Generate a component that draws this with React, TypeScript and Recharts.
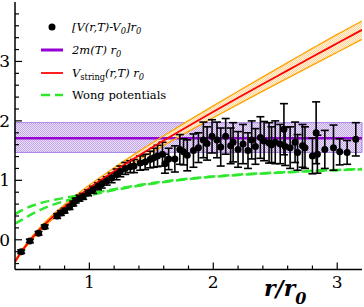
import React from 'react';
import {
  ComposedChart, Line, Area, Scatter, ErrorBar, XAxis, YAxis,
  ReferenceArea, ReferenceLine, Legend,
} from 'recharts';

// ---- curves ----
const curveR = [0.4, 0.45, 0.5, 0.6, 0.7, 0.8, 0.9, 1.0, 1.2, 1.4, 1.6, 1.8, 2.0, 2.2, 2.4, 2.6, 2.8, 3.0, 3.2];
const stringV = [-0.370, -0.207, -0.066, 0.174, 0.376, 0.555, 0.717, 0.870, 1.152, 1.417, 1.669, 1.914, 2.153, 2.388, 2.621, 2.850, 3.079, 3.305, 3.531];
const stringHi = [-0.350, -0.185, -0.041, 0.204, 0.411, 0.595, 0.762, 0.920, 1.212, 1.487, 1.749, 2.004, 2.253, 2.498, 2.741, 2.980, 3.219, 3.455, 3.681];
const stringLo = [-0.390, -0.230, -0.091, 0.144, 0.341, 0.515, 0.672, 0.820, 1.092, 1.347, 1.589, 1.824, 2.053, 2.278, 2.501, 2.720, 2.939, 3.155, 3.371];
const wongA = [0.43, 0.49, 0.54, 0.615, 0.665, 0.705, 0.74, 0.775, 0.85, 0.92, 0.98, 1.03, 1.065, 1.095, 1.12, 1.14, 1.16, 1.175, 1.19];
const wongB = [0.27, 0.33, 0.39, 0.50, 0.585, 0.65, 0.705, 0.75, 0.835, 0.91, 0.97, 1.02, 1.06, 1.09, 1.115, 1.135, 1.155, 1.17, 1.185];

// ---- 2m(T) r0 band ----
const twoM = 1.71;
const twoMLo = 1.47;
const twoMHi = 1.97;

// ---- lattice data [V(r,T)-V0] r0 ----
const dataR = [0.45, 0.52, 0.59, 0.64, 0.74, 0.77, 0.80, 0.84, 0.87, 0.89, 0.92, 0.95, 0.99, 1.03, 1.07, 1.10, 1.14, 1.18, 1.22, 1.25, 1.29, 1.33, 1.36, 1.41, 1.45, 1.49, 1.52, 1.55, 1.59, 1.61, 1.64, 1.69, 1.73, 1.76, 1.79, 1.84, 1.88, 1.92, 1.95, 1.99, 2.03, 2.06, 2.10, 2.14, 2.16, 2.20, 2.24, 2.28, 2.31, 2.34, 2.38, 2.41, 2.45, 2.47, 2.50, 2.54, 2.57, 2.58, 2.62, 2.66, 2.68, 2.72, 2.74, 2.80, 2.83, 2.84, 2.90, 2.97, 3.02, 3.08, 3.15];
const dataV = [-0.20, -0.02, 0.11, 0.22, 0.40, 0.45, 0.49, 0.55, 0.61, 0.66, 0.70, 0.73, 0.79, 0.84, 0.90, 0.94, 0.99, 1.04, 1.10, 1.15, 1.20, 1.23, 1.24, 1.29, 1.31, 1.35, 1.38, 1.41, 1.44, 1.28, 1.36, 1.36, 1.52, 1.48, 1.42, 1.50, 1.55, 1.68, 1.62, 1.74, 1.68, 1.56, 1.74, 1.58, 1.64, 1.52, 1.61, 1.50, 1.68, 1.57, 1.72, 1.66, 1.63, 1.60, 1.64, 1.61, 1.86, 1.57, 1.55, 1.64, 1.47, 1.58, 1.55, 1.41, 1.80, 1.44, 1.52, 1.55, 1.48, 1.47, 1.69];
const dataErr = [0.03, 0.03, 0.03, 0.03, 0.04, 0.04, 0.04, 0.04, 0.04, 0.04, 0.05, 0.05, 0.05, 0.06, 0.06, 0.07, 0.07, 0.08, 0.09, 0.09, 0.10, 0.10, 0.11, 0.12, 0.13, 0.14, 0.16, 0.18, 0.20, 0.16, 0.18, 0.22, 0.25, 0.22, 0.26, 0.28, 0.25, 0.30, 0.28, 0.28, 0.30, 0.32, 0.30, 0.30, 0.33, 0.30, 0.33, 0.30, 0.32, 0.30, 0.35, 0.33, 0.34, 0.30, 0.36, 0.33, 0.43, 0.32, 0.35, 0.34, 0.30, 0.36, 0.35, 0.30, 0.52, 0.32, 0.32, 0.38, 0.22, 0.20, 0.28];

// ---- ticks ----
const xTicks = [0.6, 0.8, 1, 1.2, 1.4, 1.6, 1.8, 2, 2.2, 2.4, 2.6, 2.8, 3];
const yTicks = [-0.4, -0.2, 0, 0.2, 0.4, 0.6, 0.8, 1, 1.2, 1.4, 1.6, 1.8, 2, 2.2, 2.4, 2.6, 2.8, 3, 3.2, 3.4, 3.6, 3.8];

const curveData = curveR.map((r, i) => ({
  r,
  s: stringV[i],
  hi: stringHi[i],
  lo: stringLo[i],
  band: [stringLo[i], stringHi[i]],
  wa: wongA[i],
  wb: wongB[i],
}));
const points = dataR.map((r, i) => ({ r, v: dataV[i], e: dataErr[i] }));

const SERIF = 'DejaVu Serif, Liberation Serif, serif';
const isMajor = (v: number) => Math.abs(v - Math.round(v)) < 1e-6;

const XTickBottom = (p: any) => {
  const { x, y, payload } = p;
  const m = isMajor(payload.value);
  return (
    <g>
      <line x1={x} x2={x} y1={y} y2={y - (m ? 7 : 4)} stroke="#000" strokeWidth={1.2} />
      {m && (
        <text x={x} y={y + 18.5} textAnchor="middle" style={{ fontFamily: SERIF, fontSize: 17 }} fill="#000">
          {Math.round(payload.value)}
        </text>
      )}
    </g>
  );
};
const XTickTop = (p: any) => {
  const { x, y, payload } = p;
  const m = isMajor(payload.value);
  return <line x1={x} x2={x} y1={y} y2={y + (m ? 7 : 4)} stroke="#000" strokeWidth={1.2} />;
};
const YTickLeft = (p: any) => {
  const { x, y, payload } = p;
  const m = isMajor(payload.value);
  return (
    <g>
      <line x1={x} x2={x + (m ? 7 : 4)} y1={y} y2={y} stroke="#000" strokeWidth={1.2} />
      {m && (
        <text x={x - 5} y={y + 6} textAnchor="end" style={{ fontFamily: SERIF, fontSize: 17 }} fill="#000">
          {Math.round(payload.value)}
        </text>
      )}
    </g>
  );
};
const YTickRight = (p: any) => {
  const { x, y, payload } = p;
  const m = isMajor(payload.value);
  return <line x1={x} x2={x - (m ? 7 : 4)} y1={y} y2={y} stroke="#000" strokeWidth={1.2} />;
};

const XLabel = (p: any) => {
  const vb = p.viewBox || { x: 15, y: 269.5 };
  return (
    <text x={vb.x + 249} y={vb.y + 26.5} style={{ fontFamily: SERIF, fontSize: 22, fontWeight: 'bold', fontStyle: 'italic' }} fill="#000">
      r/r
      <tspan style={{ fontSize: 16 }} dy={8}>0</tspan>
    </text>
  );
};

const Dot = (p: any) => <circle cx={p.cx} cy={p.cy} r={3.5} fill="#000" />;

const sub = (t: string, italic = true) => (
  <span style={{ fontSize: '0.72em', position: 'relative', top: '0.35em', fontStyle: italic ? 'italic' : 'normal' }}>{t}</span>
);

const LegendContent = () => {
  const row: React.CSSProperties = { display: 'flex', alignItems: 'center', height: 22.7, whiteSpace: 'nowrap' };
  const sw = (child: React.ReactNode) => (
    <svg width={22} height={10} style={{ marginLeft: 3, marginRight: 9, display: 'block' }}>{child}</svg>
  );
  return (
    <div style={{ fontFamily: SERIF, fontSize: 11.5, color: '#000' }}>
      <div style={row}>
        {sw(<circle cx={11} cy={5} r={3.5} fill="#000" />)}
        <span style={{ fontStyle: 'italic' }}>[V(r,T)-V{sub('0')}]r{sub('0')}</span>
      </div>
      <div style={row}>
        {sw(<line x1={0} x2={22} y1={5} y2={5} stroke="#9400d3" strokeWidth={3} />)}
        <span style={{ fontStyle: 'italic' }}>2m(T) r{sub('0')}</span>
      </div>
      <div style={row}>
        {sw(<line x1={0} x2={22} y1={5} y2={5} stroke="#ff2020" strokeWidth={2} />)}
        <span style={{ fontStyle: 'italic' }}>V{sub('string', false)}(r,T) r{sub('0')}</span>
      </div>
      <div style={row}>
        {sw(<line x1={0} x2={22} y1={5} y2={5} stroke="#2ee82e" strokeWidth={2.5} strokeDasharray="9 5" />)}
        <span>Wong potentials</span>
      </div>
    </div>
  );
};

export default function App() {
  return (
    <div style={{ position: 'absolute', left: 0, top: 0, background: '#fff', fontFamily: SERIF }}>
      <svg width={0} height={0} style={{ position: 'absolute' }}>
        <defs>
          <pattern id="purpleHatch" width={2} height={2} patternUnits="userSpaceOnUse">
            <rect width={2} height={2} fill="#ece2f8" />
            <rect width={1} height={1} fill="#c3a6ea" />
            <rect x={1} y={1} width={1} height={1} fill="#c3a6ea" />
          </pattern>
          <pattern id="orangeHatch" width={2} height={2} patternUnits="userSpaceOnUse">
            <rect width={2} height={2} fill="#fff3e2" />
            <rect width={1} height={1} fill="#ffd296" />
            <rect x={1} y={1} width={1} height={1} fill="#ffd296" />
          </pattern>
        </defs>
      </svg>
      <ComposedChart
        width={364}
        height={307}
        data={curveData}
        margin={{ top: 2, right: 2, bottom: 0, left: 0 }}
      >
        <XAxis
          dataKey="r"
          type="number"
          domain={[0.4, 3.2]}
          allowDataOverflow
          ticks={xTicks}
          interval={0}
          tickSize={0}
          tickMargin={0}
          tickLine={false}
          tick={<XTickBottom />}
          height={37.5}
          axisLine={{ stroke: '#000', strokeWidth: 1.5 }}
          label={<XLabel />}
        />
        <XAxis
          xAxisId="top"
          orientation="top"
          dataKey="r"
          type="number"
          domain={[0.4, 3.2]}
          allowDataOverflow
          ticks={xTicks}
          interval={0}
          tickSize={0}
          tickMargin={0}
          tickLine={false}
          tick={<XTickTop />}
          height={0}
          axisLine={{ stroke: '#000', strokeWidth: 1.5 }}
        />
        <YAxis
          type="number"
          domain={[-0.5, 4]}
          allowDataOverflow
          ticks={yTicks}
          interval={0}
          tickSize={0}
          tickMargin={0}
          tickLine={false}
          tick={<YTickLeft />}
          width={15}
          axisLine={{ stroke: '#000', strokeWidth: 1.5 }}
        />
        <YAxis
          yAxisId="right"
          orientation="right"
          type="number"
          domain={[-0.5, 4]}
          allowDataOverflow
          ticks={yTicks}
          interval={0}
          tickSize={0}
          tickMargin={0}
          tickLine={false}
          tick={<YTickRight />}
          width={0}
          axisLine={{ stroke: '#000', strokeWidth: 1.5 }}
        />
        <ReferenceArea y1={twoMLo} y2={twoMHi} fill="url(#purpleHatch)" fillOpacity={1} stroke="#a57ee6" strokeWidth={1} />
        <ReferenceLine y={twoM} stroke="#9400d3" strokeWidth={2.5} />
        <Area dataKey="band" type="monotone" fill="url(#orangeHatch)" fillOpacity={1} stroke="none" isAnimationActive={false} />
        <Line dataKey="hi" type="monotone" stroke="#ffa500" strokeWidth={1.3} dot={false} isAnimationActive={false} />
        <Line dataKey="lo" type="monotone" stroke="#ffa500" strokeWidth={1.3} dot={false} isAnimationActive={false} />
        <Line dataKey="wa" type="monotone" stroke="#2ee82e" strokeWidth={2.5} strokeDasharray="9 5" dot={false} isAnimationActive={false} />
        <Line dataKey="wb" type="monotone" stroke="#2ee82e" strokeWidth={2.5} strokeDasharray="9 5" dot={false} isAnimationActive={false} />
        <Scatter data={points} dataKey="v" shape={<Dot />} fill="#000" isAnimationActive={false}>
          <ErrorBar dataKey="e" direction="y" width={4} stroke="#000" strokeWidth={1.6} />
        </Scatter>
        <Line dataKey="s" type="monotone" stroke="#ff0000" strokeWidth={1.8} dot={false} isAnimationActive={false} />
        <Legend
          layout="horizontal"
          verticalAlign="middle"
          align="center"
          content={<LegendContent />}
          wrapperStyle={{ position: 'absolute', top: 16, left: 38, width: 'auto', height: 'auto' }}
        />
      </ComposedChart>
    </div>
  );
}
